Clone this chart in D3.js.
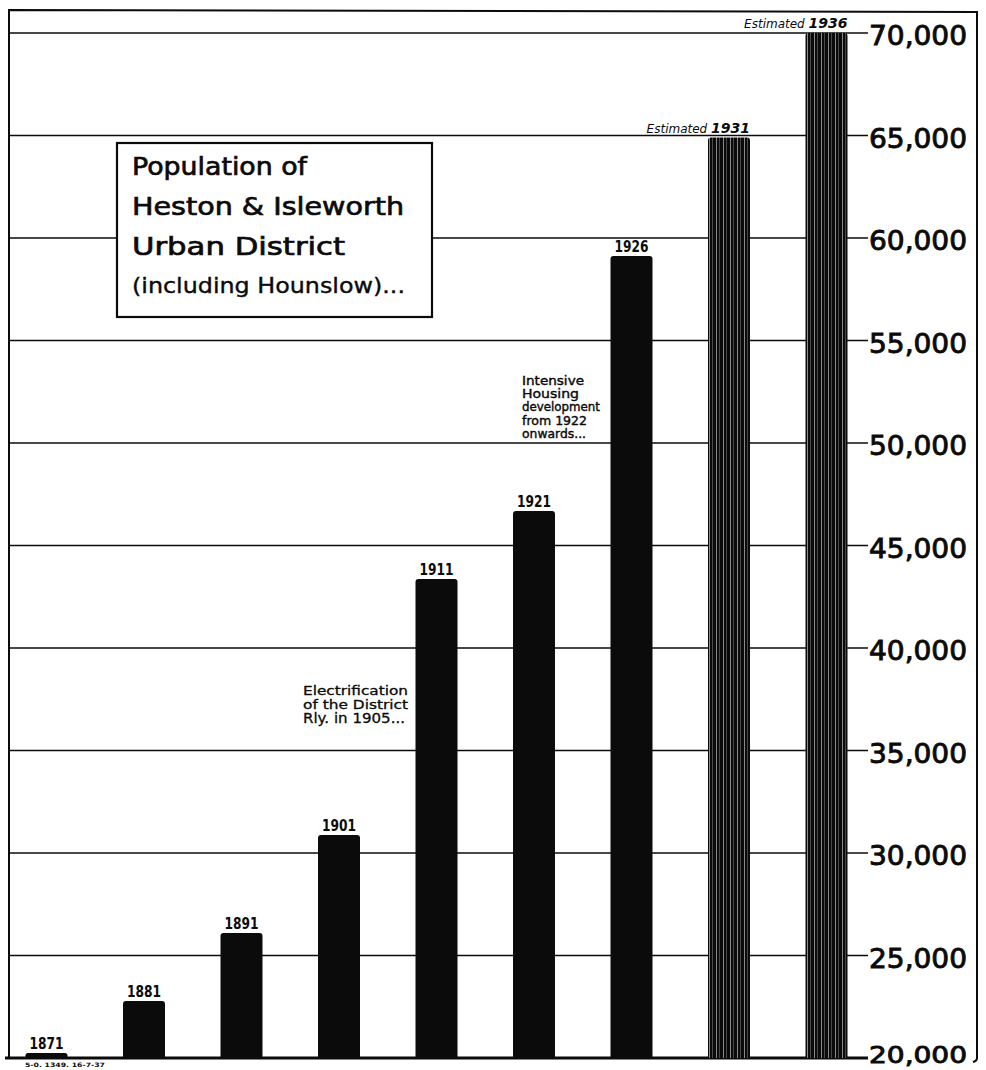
<!DOCTYPE html>
<html>
<head>
<meta charset="utf-8">
<script src="https://cdn.jsdelivr.net/npm/d3@7"></script>
<style>
  html, body { margin: 0; padding: 0; background: #fff; }
  svg { display: block; }
</style>
</head>
<body>
<script>
// ---- data ----
const years = ["1871", "1881", "1891", "1901", "1911", "1921", "1926", "1931", "1936"];
const population = [20250, 22780, 26100, 30880, 43370, 46680, 59120, 64900, 70000];
const estimated = [false, false, false, false, false, false, false, true, true];
const tickValues = [20000, 25000, 30000, 35000, 40000, 45000, 50000, 55000, 60000, 65000, 70000];
const titleLines = ["Population of", "Heston & Isleworth", "Urban District", "(including Hounslow)..."];
const noteElectric = ["Electrification", "of the District", "Rly. in 1905..."];
const noteHousing = ["Intensive", "Housing", "development", "from 1922", "onwards..."];
const footnote = "5-0. 1349. 16-7-37";

const W = 986, H = 1070;
const svg = d3.select("body").append("svg").attr("width", W).attr("height", H);

const x = d3.scalePoint().domain(years).range([46.5, 826.5]);
const y = d3.scaleLinear().domain([20000, 70000]).range([1058, 33]);
const barW = 42;

// pattern for estimated bars
const defs = svg.append("defs");
const pat = defs.append("pattern").attr("id", "stripes")
  .attr("patternUnits", "userSpaceOnUse").attr("width", 7).attr("height", 10);
pat.append("rect").attr("width", 7).attr("height", 10).attr("fill", "#0a0a0a");
pat.append("rect").attr("x", 2).attr("width", 1).attr("height", 10).attr("fill", "#8a8a8a");
pat.append("rect").attr("x", 5).attr("width", 0.8).attr("height", 10).attr("fill", "#5a5a5a");

const ink = "#0b0b0b";
const font = "'DejaVu Sans', sans-serif";

// frame: top border, left border, right border
svg.append("path")
  .attr("d", "M9,1058 L9,10 L977,12 L977,1058 Q977,1061 973,1062")
  .attr("fill", "none").attr("stroke", ink).attr("stroke-width", 2);

// gridlines
svg.append("g").selectAll("line").data(tickValues.filter(v => v > 20000)).join("line")
  .attr("x1", 9).attr("x2", 868)
  .attr("y1", d => y(d)).attr("y2", d => y(d))
  .attr("stroke", ink).attr("stroke-width", 1.4);

// baseline
svg.append("line").attr("x1", 5).attr("x2", 868).attr("y1", y(20000)).attr("y2", y(20000))
  .attr("stroke", ink).attr("stroke-width", 3);

// tick labels
svg.append("g").selectAll("text").data(tickValues).join("text")
  .attr("x", 869).attr("y", d => d === 20000 ? y(d) + 5 : y(d) + 12)
  .attr("font-family", font).attr("font-size", d => d === 20000 ? 23 : 27)
  .attr("textLength", 98).attr("lengthAdjust", "spacingAndGlyphs")
  .attr("fill", ink).attr("stroke", ink).attr("stroke-width", 0.9)
  .text(d => d3.format(",")(d));

// bars
const data = years.map((yr, i) => ({ year: yr, value: population[i], est: estimated[i] }));
svg.append("g").selectAll("path").data(data).join("path")
  .attr("d", d => {
    const x0 = x(d.year) - barW / 2, x1 = x(d.year) + barW / 2;
    const top = y(d.value), bot = y(20000);
    const r = Math.min(3, (bot - top) / 2);
    return `M${x0},${bot} L${x0},${top + r} Q${x0},${top} ${x0 + r},${top} L${x1 - r},${top} Q${x1},${top} ${x1},${top + r} L${x1},${bot} Z`;
  })
  .attr("fill", d => d.est ? "url(#stripes)" : ink);

// year labels for actual bars
svg.append("g").selectAll("text").data(data.filter(d => !d.est)).join("text")
  .attr("x", d => x(d.year)).attr("y", d => y(d.value) - 4)
  .attr("text-anchor", "middle")
  .attr("font-family", "'DejaVu Sans Condensed', 'DejaVu Sans', sans-serif")
  .attr("font-size", 15).attr("font-weight", "bold")
  .attr("textLength", 34).attr("lengthAdjust", "spacingAndGlyphs")
  .attr("fill", ink)
  .text(d => d.year);

// estimated labels
const estG = svg.append("g").selectAll("text").data(data.filter(d => d.est)).join("text")
  .attr("x", d => x(d.year) + barW / 2).attr("y", d => y(d.value) - 5)
  .attr("text-anchor", "end")
  .attr("font-family", font).attr("font-size", 12).attr("font-style", "italic")
  .attr("fill", ink);
estG.append("tspan").text("Estimated ");
estG.append("tspan").attr("font-weight", "bold").attr("font-size", 14).text(d => d.year);

// title box
const box = svg.append("g");
box.append("rect").attr("x", 117).attr("y", 143).attr("width", 315).attr("height", 174)
  .attr("fill", "#fff").attr("stroke", ink).attr("stroke-width", 2.2);
const titleY = [175, 215, 255, 293];
const titleLen = [175, 272, 213, 273];
box.selectAll("text").data(titleLines).join("text")
  .attr("x", 132).attr("y", (d, i) => titleY[i])
  .attr("font-family", font).attr("font-size", (d, i) => i < 3 ? 25 : 22)
  .attr("stroke", ink).attr("stroke-width", (d, i) => i < 3 ? 0.7 : 0.4)
  .attr("textLength", (d, i) => titleLen[i]).attr("lengthAdjust", "spacingAndGlyphs")
  .attr("fill", ink)
  .text(d => d);

// annotations
const elecLen = [105, 105, 102];
svg.append("g").selectAll("text").data(noteElectric).join("text")
  .attr("x", 303).attr("y", (d, i) => 695 + i * 14)
  .attr("font-family", font).attr("font-size", (d, i) => i === 2 ? 14 : 12)
  .attr("stroke", ink).attr("stroke-width", 0.3)
  .attr("textLength", (d, i) => elecLen[i]).attr("lengthAdjust", "spacingAndGlyphs")
  .attr("fill", ink)
  .text(d => d);

const houseLen = [62, 57, 78, 65, 64];
svg.append("g").selectAll("text").data(noteHousing).join("text")
  .attr("x", 522).attr("y", (d, i) => 385 + i * 13.2)
  .attr("font-family", font).attr("font-size", 12)
  .attr("stroke", ink).attr("stroke-width", 0.4)
  .attr("textLength", (d, i) => houseLen[i]).attr("lengthAdjust", "spacingAndGlyphs")
  .attr("fill", ink)
  .text(d => d);

// footnote
svg.append("text").attr("x", 25).attr("y", 1067)
  .attr("font-family", font).attr("font-size", 6).attr("font-weight", "bold")
  .attr("textLength", 80).attr("lengthAdjust", "spacingAndGlyphs")
  .attr("fill", ink).text(footnote);
</script>
</body>
</html>
